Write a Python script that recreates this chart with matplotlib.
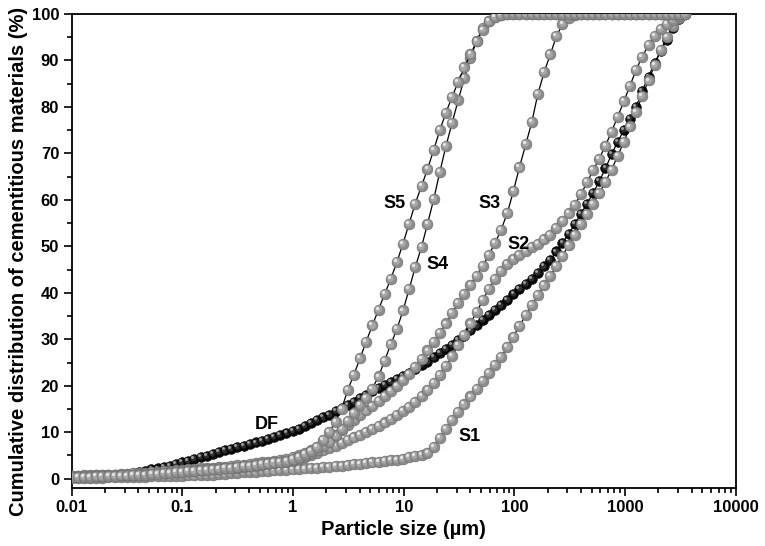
import numpy as np
import matplotlib
matplotlib.use('Agg')
import matplotlib.pyplot as plt
from matplotlib.transforms import offset_copy
from matplotlib.ticker import MultipleLocator, LogLocator, NullFormatter

plt.rcParams['font.family'] = ['Liberation Sans', 'DejaVu Sans']
plt.rcParams['font.weight'] = 'bold'

# particle size classes (um)
size = [0.0100, 0.0114, 0.0129, 0.0147, 0.0167, 0.0189, 0.0215, 0.0244, 0.0278, 0.0315,
        0.0358, 0.0407, 0.0463, 0.0526, 0.0597, 0.0679, 0.0771, 0.0876, 0.0995, 0.113,
        0.128, 0.146, 0.166, 0.188, 0.214, 0.243, 0.276, 0.314, 0.357, 0.405,
        0.460, 0.523, 0.594, 0.675, 0.767, 0.872, 0.991, 1.13, 1.28, 1.45,
        1.65, 1.88, 2.13, 2.42, 2.75, 3.12, 3.55, 4.03, 4.58, 5.21,
        5.92, 6.72, 7.64, 8.68, 9.86, 11.2, 12.7, 14.5, 16.4, 18.7,
        21.2, 24.1, 27.4, 31.1, 35.3, 40.1, 45.6, 51.8, 58.9, 66.9,
        76.0, 86.4, 98.1, 111, 127, 144, 163, 186, 211, 240,
        272, 310, 352, 400, 454, 516, 586, 666, 756, 859,
        976, 1110, 1260, 1430, 1630, 1850, 2100, 2390, 2710, 3080,
        3500]

nan = float('nan')
df = [nan, nan, nan, nan, nan, 0.3, 0.5, 0.7, 0.8, 1.0,
      1.2, 1.5, 1.7, 2.0, 2.2, 2.5, 2.8, 3.1, 3.5, 3.8,
      4.2, 4.6, 4.9, 5.3, 5.7, 6.1, 6.4, 6.8, 7.1, 7.4,
      7.8, 8.2, 8.6, 9.0, 9.4, 9.9, 10.3, 10.8, 11.4, 12.0,
      12.6, 13.2, 13.8, 14.5, 15.2, 15.9, 16.6, 17.3, 18.1, 18.8,
      19.5, 20.2, 20.8, 21.5, 22.1, 22.8, 23.6, 24.4, 25.2, 26.1,
      27.0, 27.9, 28.8, 29.8, 30.8, 31.9, 33.0, 34.1, 35.2, 36.3,
      37.3, 38.5, 39.7, 40.8, 41.9, 43.0, 44.3, 45.7, 47.1, 48.9,
      50.8, 52.7, 54.8, 57.0, 59.2, 61.5, 64.0, 66.8, 69.8, 72.5,
      75.0, 77.5, 80.0, 83.5, 86.5, 89.5, 92.0, 94.5, 97.0, 99.0,
      100]

s1 = [0.1, 0.1, 0.1, 0.2, 0.2, 0.2, 0.3, 0.3, 0.3, 0.3,
      0.4, 0.4, 0.4, 0.5, 0.5, 0.5, 0.5, 0.6, 0.6, 0.7,
      0.7, 0.8, 0.9, 0.9, 1.0, 1.1, 1.2, 1.3, 1.4, 1.4,
      1.5, 1.6, 1.7, 1.8, 1.9, 1.9, 2.0, 2.1, 2.2, 2.3,
      2.4, 2.5, 2.6, 2.7, 2.8, 3.0, 3.1, 3.2, 3.4, 3.5,
      3.7, 3.8, 4.0, 4.1, 4.3, 4.6, 4.9, 5.2, 5.5, 6.8,
      8.8, 10.8, 12.6, 14.3, 16.0, 17.7, 19.4, 21.0, 22.7, 24.4,
      26.2, 28.3, 30.6, 32.9, 35.2, 37.4, 39.5, 41.6, 43.6, 45.8,
      48.0, 50.2, 52.5, 54.8, 57.0, 59.2, 61.5, 63.9, 66.5, 69.5,
      72.5, 75.8, 79.0, 82.4, 85.7, 89.0, 92.2, 95.0, 97.4, 99.2,
      100]

s2 = [0.5, 0.5, 0.6, 0.6, 0.7, 0.7, 0.8, 0.8, 0.9, 0.9,
      1.0, 1.0, 1.1, 1.2, 1.2, 1.3, 1.4, 1.4, 1.5, 1.6,
      1.7, 1.8, 1.9, 2.0, 2.1, 2.2, 2.3, 2.4, 2.6, 2.7,
      2.8, 3.0, 3.1, 3.3, 3.5, 3.7, 3.9, 4.3, 4.7, 5.1,
      5.6, 6.1, 6.6, 7.1, 7.7, 8.3, 8.9, 9.5, 10.1, 10.7,
      11.4, 12.1, 12.9, 13.7, 14.6, 15.5, 16.6, 17.8, 19.1, 20.6,
      22.3, 24.2, 26.4, 28.7, 31.0, 33.4, 35.9, 38.4, 40.9, 43.0,
      44.8, 46.2, 47.3, 48.2, 49.0, 49.8, 50.6, 51.5, 52.5, 53.9,
      55.4, 57.1, 59.0, 61.2, 63.8, 66.4, 68.9, 71.7, 74.7, 77.9,
      81.2, 84.6, 88.0, 90.8, 93.3, 95.3, 96.8, 97.9, 98.8, 99.5,
      100]

s3 = [0.6, 0.6, 0.7, 0.7, 0.8, 0.8, 0.9, 0.9, 1.0, 1.1,
      1.2, 1.2, 1.3, 1.4, 1.5, 1.6, 1.7, 1.8, 1.9, 2.0,
      2.1, 2.2, 2.3, 2.4, 2.5, 2.6, 2.8, 2.9, 3.0, 3.2,
      3.3, 3.5, 3.7, 3.9, 4.1, 4.3, 4.6, 5.0, 5.5, 6.2,
      6.9, 7.7, 8.5, 9.4, 10.4, 11.5, 12.6, 13.7, 14.7, 15.7,
      16.8, 17.8, 18.9, 20.0, 21.2, 22.6, 24.1, 25.8, 27.6, 29.5,
      31.4, 33.4, 35.6, 37.9, 39.8, 41.7, 43.7, 45.8, 48.2, 50.7,
      53.6, 57.2, 61.9, 67.0, 72.0, 76.8, 82.8, 87.5, 91.3, 95.2,
      97.8, 99.2, 99.8, 100, 100, 100, 100, 100, 100, 100,
      100, 100, 100, 100, 100, 100, 100, 100, 100, 100,
      100]

s4 = [0.4, 0.4, 0.5, 0.5, 0.6, 0.6, 0.7, 0.7, 0.8, 0.9,
      0.9, 1.0, 1.1, 1.1, 1.2, 1.3, 1.4, 1.5, 1.6, 1.7,
      1.8, 1.9, 2.0, 2.1, 2.2, 2.3, 2.4, 2.5, 2.7, 2.8,
      3.0, 3.1, 3.3, 3.4, 3.6, 3.8, 4.0, 4.4, 4.9, 5.5,
      6.2, 7.0, 8.0, 9.3, 10.8, 12.5, 14.2, 15.8, 17.3, 19.4,
      22.0, 25.4, 28.9, 32.2, 36.2, 40.8, 45.5, 49.9, 54.8, 60.2,
      66.0, 71.6, 76.6, 81.5, 86.2, 90.5, 94.2, 97.0, 98.6, 99.4,
      99.8, 100, 100, 100, 100, 100, 100, 100, 100, 100,
      100, 100, 100, 100, 100, 100, 100, 100, 100, 100,
      100, 100, 100, 100, 100, 100, 100, 100, 100, 100,
      100]

s5 = [0.3, 0.3, 0.4, 0.4, 0.5, 0.5, 0.6, 0.6, 0.7, 0.7,
      0.8, 0.9, 0.9, 1.0, 1.1, 1.2, 1.3, 1.4, 1.5, 1.6,
      1.7, 1.8, 1.9, 2.0, 2.1, 2.3, 2.4, 2.5, 2.7, 2.8,
      3.0, 3.1, 3.3, 3.5, 3.7, 3.9, 4.2, 4.7, 5.3, 6.0,
      6.9, 8.3, 10.1, 12.3, 15.0, 19.1, 22.4, 25.9, 29.5, 33.0,
      36.4, 39.7, 43.0, 46.6, 50.6, 54.9, 59.2, 63.0, 66.6, 70.8,
      75.0, 78.8, 82.2, 85.4, 88.5, 91.3, 94.1, 96.6, 98.4, 99.4,
      99.8, 100, 100, 100, 100, 100, 100, 100, 100, 100,
      100, 100, 100, 100, 100, 100, 100, 100, 100, 100,
      100, 100, 100, 100, 100, 100, 100, 100, 100, 100,
      100]

# curve labels: text, x, y
labels = [('DF', 0.58, 11.6), ('S1', 39.6, 9.0), ('S2', 108, 50.3),
          ('S3', 60, 59.3), ('S4', 20.4, 46.0), ('S5', 8.3, 59.3)]

fig = plt.figure(figsize=(7.65, 5.46), dpi=100)
ax = fig.add_axes([71.7 / 765, 1 - 488 / 546, 664 / 765, 474 / 546])
ax.set_xscale('log')

t1 = offset_copy(ax.transData, fig=fig, x=-0.6, y=0.6, units='points')
t2 = offset_copy(ax.transData, fig=fig, x=-1.4, y=1.4, units='points')


def balls(y, face, edge, mid, light, ms, z):
    ax.plot(size, y, '-', color='k', lw=0.9, zorder=z)
    for xi, yi in zip(size, y):
        if np.isnan(yi):
            continue
        ax.plot([xi], [yi], 'o', ms=ms, mfc=face, mec=edge, mew=0.4, zorder=z)
        ax.plot([xi], [yi], 'o', ms=ms * 0.62, mfc=mid, mec='none', transform=t1, zorder=z)
        ax.plot([xi], [yi], 'o', ms=ms * 0.3, mfc=light, mec='none', transform=t2, zorder=z)


balls(df, '#080808', '#000000', '#303030', '#a0a0a0', 7.0, 2)
z = 3
for s in [s1, s2, s3, s4, s5]:
    balls(s, '#8c8c8c', '#6a6a6a', '#a8a8a8', '#e4e4e4', 7.8, z)
    z += 1

for txt, lx, ly in labels:
    ax.text(lx, ly, txt, fontsize=13, fontweight='bold', ha='center', va='center', zorder=10)

ax.set_xlim(0.01, 10000)
ax.set_ylim(-2, 100)
ax.set_xticks([0.01, 0.1, 1, 10, 100, 1000, 10000])
ax.set_xticklabels(['0.01', '0.1', '1', '10', '100', '1000', '10000'])
ax.xaxis.set_minor_locator(LogLocator(base=10, subs=np.arange(2, 10)))
ax.xaxis.set_minor_formatter(NullFormatter())
ax.yaxis.set_major_locator(MultipleLocator(10))
ax.yaxis.set_minor_locator(MultipleLocator(5))

ax.tick_params(which='both', direction='out', width=1.2, labelsize=12, top=False, right=False)
ax.tick_params(which='major', length=6, pad=3)
ax.tick_params(which='minor', length=3.5)
for sp in ax.spines.values():
    sp.set_linewidth(1.3)

ax.set_xlabel('Particle size (\u00b5m)', fontsize=14.5, fontweight='bold')
ax.set_ylabel('Cumulative distribution of cementitious materials (%)', fontsize=14.5, fontweight='bold')
ax.xaxis.set_label_coords(0.5, -0.068)
ax.yaxis.set_label_coords(-0.066, 0.477)

fig.savefig('out.png', dpi=100)
